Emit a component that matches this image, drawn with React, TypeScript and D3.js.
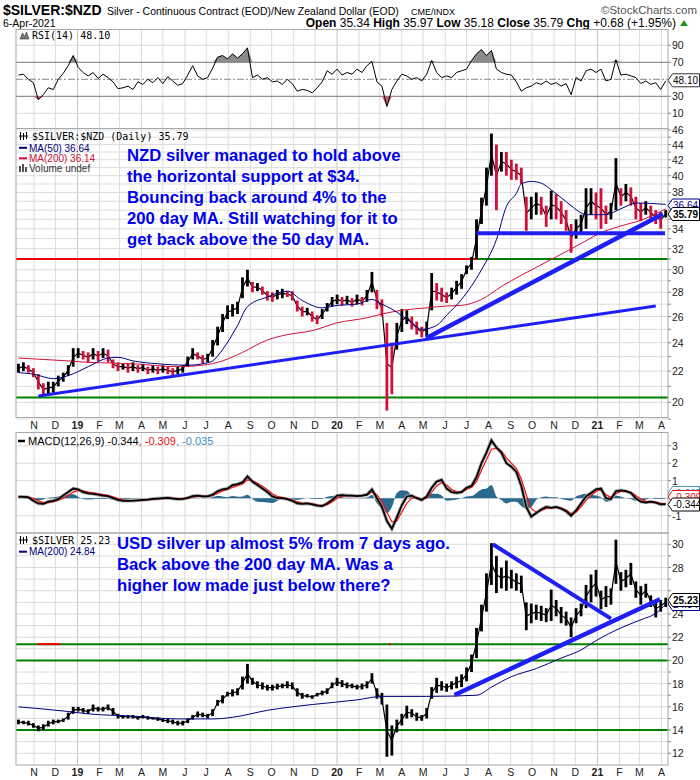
import React from "react";
import * as d3 from "d3";

// ---------------- DATA ----------------
const weekStart = "2018-10-10"; // first weekly bar (week index 0)
const axisStart = "2018-10-08";
const axisEnd = "2021-04-06";

const nzdLow = [21.9,22.0,21.9,21.6,20.8,20.4,20.5,20.6,21.0,21.3,21.7,22.3,22.9,22.8,22.6,22.8,22.7,22.9,22.6,22.2,22.0,22.1,21.9,22.0,21.9,22.0,21.8,21.9,21.8,21.9,21.8,21.7,21.8,21.9,22.3,22.8,22.8,22.5,22.6,23.0,23.8,24.8,25.8,26.0,26.2,27.5,28.5,28.0,28.1,27.8,27.3,27.2,27.4,27.5,27.6,27.3,26.4,26.0,26.1,25.6,25.4,25.8,26.4,26.8,27.0,26.9,27.0,26.8,27.0,26.9,27.2,28.0,26.6,26.0,19.5,20.5,23.5,24.8,25.4,25.0,24.6,24.4,24.5,26.5,27.3,27.2,27.1,27.4,27.8,28.3,29.6,30.0,31.0,34.5,36.5,40.0,36.0,40.5,40.0,39.5,39.5,39.0,33.8,35.0,35.5,35.5,34.2,35.0,35.0,34.5,33.8,31.6,33.0,33.5,34.0,35.5,35.0,34.0,34.5,35.0,36.0,36.5,37.0,36.5,35.0,34.8,35.5,35.0,34.5,34.0,35.2];
const nzdHigh = [22.5,22.6,22.4,22.2,21.8,21.2,21.3,21.3,21.7,21.9,22.4,23.6,23.6,23.4,23.3,23.6,23.4,23.6,23.5,22.8,22.6,22.5,22.5,22.6,22.4,22.5,22.3,22.4,22.3,22.4,22.3,22.2,22.3,22.4,23.0,23.6,23.3,23.1,23.2,24.2,25.2,26.2,26.9,27.0,27.2,29.3,30.0,28.9,28.8,28.5,28.1,28.0,28.2,28.3,28.1,28.1,27.3,26.8,26.7,26.4,26.1,26.6,27.1,27.6,27.8,27.6,27.7,27.5,27.8,27.6,28.2,29.8,28.2,27.4,25.5,24.0,25.5,26.6,26.5,26.0,25.6,25.2,25.6,29.7,28.8,28.4,28.0,28.4,29.0,29.6,30.4,31.2,35.0,37.4,41.0,45.5,44.0,43.0,43.0,42.0,41.5,41.0,37.5,37.5,38.0,37.5,36.5,38.2,37.8,37.0,36.0,34.5,35.0,35.5,38.5,38.5,38.0,38.5,36.5,36.8,42.2,38.5,39.0,38.6,37.5,36.8,37.0,36.5,36.0,35.8,36.0];

const ma50Week = [0,3,7,10,14,18,20,23,28,34,37,39,41,44,46,50,54,57,61,64,68,71,73,75,79,81,84,86,89,93,96,98,100,101,103,105,107,109,111,113,114,118,120,122,124,130];
const ma50Nzd = [21.9,21.8,21.5,21.7,22.3,22.9,22.95,22.7,22.5,22.4,22.5,22.7,23.5,25.3,26.8,27.6,28.1,27.3,26.7,26.9,27.0,27.4,27.0,26.6,25.5,25.0,25.3,26.1,27.4,30.0,32.9,36.4,37.9,39.0,39.3,39.1,38.3,37.4,36.5,35.7,35.5,35.5,35.9,36.4,36.8,36.64];
const ma200Week = [0,5,10,14,19,23,32,37,41,45,50,54,59,64,70,73,77,82,86,89,93,97,101,108,113,117,121,125,130];
const ma200Nzd = [22.9,22.8,22.7,22.6,22.55,22.5,22.3,22.4,22.7,23.3,24.2,24.6,24.9,25.5,25.9,26.2,26.5,26.7,26.85,26.9,27.4,28.5,29.5,31.2,32.5,33.6,34.3,34.9,36.14];

const rsi14 = [55,56,50,46,26,32,40,38,50,57,66,78,64,58,54,58,51,56,52,47,39,40,42,38,47,44,50,46,52,45,53,48,43,45,55,66,54,50,52,63,76,78,74,80,75,80,87,52,55,50,52,47,48,44,50,45,36,38,37,34,40,47,60,56,62,55,58,56,62,58,66,71,47,42,18,38,48,56,54,50,52,48,56,72,58,52,54,52,58,60,62,72,80,85,78,84,62,58,56,55,47,36,40,42,46,44,48,44,46,42,45,32,52,48,60,62,58,62,48,50,73,55,56,54,52,45,48,44,46,38,48.1];

const macdLine = [0.08,0.08,0.05,-0.15,-0.3,-0.32,-0.2,-0.15,-0.05,0.15,0.35,0.55,0.5,0.35,0.28,0.25,0.2,0.15,0.12,0.0,-0.1,-0.15,-0.15,-0.14,-0.12,-0.1,-0.08,-0.04,-0.02,0.0,0.02,-0.02,-0.05,-0.04,0.02,0.12,0.15,0.1,0.1,0.2,0.4,0.5,0.55,0.75,0.8,0.9,1.25,0.95,0.75,0.55,0.35,0.1,0.0,0.0,-0.05,-0.15,-0.3,-0.32,-0.3,-0.35,-0.42,-0.45,-0.3,-0.1,0.15,0.18,0.15,0.15,0.12,0.15,0.2,0.5,0.0,-0.5,-1.3,-1.75,-1.1,-0.4,0.1,0.15,0.0,-0.1,0.1,0.6,0.95,1.05,0.55,0.35,0.3,0.35,0.6,0.7,1.2,2.0,2.6,3.3,2.9,2.6,2.0,1.8,1.5,0.7,-0.5,-1.05,-0.85,-0.65,-0.5,-0.55,-0.5,-0.6,-0.75,-1.0,-0.7,-0.3,0.1,0.3,0.5,0.55,0.0,-0.05,0.4,0.45,0.4,0.3,0.0,-0.2,-0.25,-0.2,-0.25,-0.35,-0.344];
const macdSignal = [0.1,0.09,0.07,0.0,-0.15,-0.25,-0.25,-0.2,-0.12,0.0,0.15,0.35,0.45,0.42,0.35,0.3,0.25,0.2,0.15,0.08,-0.02,-0.1,-0.13,-0.14,-0.13,-0.11,-0.09,-0.06,-0.04,-0.02,0.0,0.0,-0.02,-0.03,-0.01,0.06,0.12,0.12,0.11,0.15,0.28,0.42,0.5,0.62,0.72,0.82,1.05,1.0,0.85,0.68,0.48,0.25,0.1,0.03,-0.02,-0.1,-0.2,-0.28,-0.3,-0.32,-0.38,-0.42,-0.37,-0.22,0.0,0.12,0.15,0.15,0.13,0.14,0.17,0.35,0.2,-0.2,-0.8,-1.35,-1.3,-0.8,-0.3,0.0,0.05,-0.05,0.02,0.35,0.7,0.9,0.75,0.5,0.38,0.35,0.5,0.62,0.95,1.6,2.2,2.8,2.85,2.7,2.3,2.0,1.7,1.1,0.2,-0.6,-0.8,-0.7,-0.58,-0.55,-0.52,-0.56,-0.68,-0.88,-0.8,-0.5,-0.12,0.15,0.38,0.5,0.2,0.05,0.25,0.4,0.4,0.35,0.15,-0.05,-0.18,-0.2,-0.22,-0.3,-0.309];
const macdHist = [0.0,-0.01,-0.02,-0.1,-0.12,-0.08,0.02,0.05,0.1,0.15,0.2,0.22,0.08,-0.05,-0.08,-0.06,-0.05,-0.05,-0.03,-0.08,-0.08,-0.06,-0.04,-0.03,-0.02,-0.02,-0.02,0.02,0.02,0.02,0.02,-0.02,-0.03,-0.01,0.03,0.06,0.03,-0.02,0.0,0.06,0.12,0.1,0.06,0.12,0.08,0.1,0.2,-0.05,-0.2,-0.22,-0.25,-0.28,-0.15,-0.05,-0.03,-0.06,-0.1,-0.05,0.0,-0.04,-0.05,-0.04,0.08,0.12,0.15,0.06,0.02,0.02,0.0,0.02,0.04,0.18,-0.3,-0.6,-0.85,-0.5,0.3,0.45,0.42,0.15,-0.05,-0.08,0.08,0.25,0.25,0.15,-0.15,-0.12,-0.08,0.0,0.1,0.12,0.3,0.5,0.55,0.75,0.1,-0.1,-0.3,-0.2,-0.2,-0.45,-0.6,-0.5,-0.1,0.05,0.1,0.05,0.05,-0.05,-0.1,-0.15,0.1,0.2,0.25,0.2,0.15,0.05,-0.2,-0.15,0.15,0.08,0.0,-0.05,-0.15,-0.15,-0.08,0.0,-0.05,-0.05,-0.035];

const usdLow = [14.5,14.5,14.4,14.2,13.9,14.0,14.3,14.5,14.6,14.7,14.9,15.4,15.6,15.5,15.4,15.6,15.6,15.6,15.7,15.3,15.0,15.0,15.0,15.0,14.9,15.0,14.9,14.9,14.8,14.7,14.6,14.5,14.4,14.4,14.6,14.9,15.1,15.1,15.0,15.2,16.1,16.3,16.9,16.9,17.0,17.5,18.0,17.9,17.6,17.5,17.4,17.4,17.5,17.6,17.6,17.5,16.9,16.7,16.8,16.7,16.9,17.0,17.1,17.6,17.8,17.7,17.6,17.6,17.5,17.5,17.6,18.0,16.7,16.2,11.7,11.8,13.8,14.4,15.0,15.1,14.8,14.8,15.0,16.7,17.2,17.4,17.3,17.5,17.6,17.7,18.2,19.0,20.2,22.5,24.2,26.5,25.8,26.2,26.0,26.2,26.0,25.8,22.6,23.2,23.5,23.4,23.3,23.4,23.8,23.2,23.0,22.0,23.2,23.8,24.5,25.0,25.5,24.4,24.6,24.8,26.6,26.0,26.3,26.5,25.4,24.8,25.4,24.6,23.7,24.2,24.6];
const usdHigh = [14.9,14.8,14.8,14.6,14.4,14.5,14.8,14.9,14.9,15.0,15.5,16.0,16.0,15.9,15.8,16.2,16.0,16.0,16.2,15.9,15.4,15.3,15.3,15.3,15.2,15.3,15.2,15.1,15.1,15.0,15.0,14.9,14.8,14.8,15.0,15.3,15.6,15.5,15.4,15.8,16.6,17.0,17.3,17.5,17.6,18.6,19.7,18.5,18.2,18.1,17.9,17.9,18.0,18.0,18.2,18.1,17.6,17.2,17.1,17.0,17.2,17.4,17.6,18.1,18.5,18.3,18.1,18.0,17.9,18.0,18.2,18.9,17.6,17.2,16.2,14.4,14.9,15.4,16.1,15.8,15.5,15.3,15.9,17.7,18.5,18.2,18.0,18.2,18.6,18.8,19.4,20.5,22.8,24.8,27.5,30.1,29.0,28.0,28.6,27.8,27.5,27.3,25.0,24.9,24.8,24.7,24.5,26.1,25.2,24.6,24.2,23.7,24.5,24.9,26.5,27.4,27.8,26.0,26.4,26.2,30.4,27.6,27.8,28.4,26.8,26.4,26.6,25.6,25.2,25.2,25.4];
const usdMa200Week = [0,10,14,23,32,39,43,50,59,68,73,82,92,95,99,104,109,113,116,121,125,128,130];
const usdMa200 = [16.0,15.6,15.4,15.2,14.96,14.96,15.1,15.7,16.2,16.6,16.9,16.9,17.0,17.7,18.6,19.3,20.2,20.9,21.7,22.8,23.5,24.05,24.84];

// annotation lines (dates / prices)
const nzdResistance = 31.0;
const nzdResistanceBreak = "2020-07-16";
const nzdFloor = 20.3;
const nzdSupport = 33.55;
const nzdSupportSpan = ["2020-07-15", "2021-04-06"];
const nzdTrendLong: [string, number][] = [["2018-11-07", 20.39], ["2021-03-24", 26.85]];
const nzdTrendSteep: [string, number][] = [["2020-05-05", 24.32], ["2021-04-03", 35.57]];
const usdLevels = [21.4, 20.0, 14.0];
const usdRedMarks: [string, string][] = [["2018-11-06", "2018-12-08"], ["2020-03-14", "2020-03-17"]];
const usdTrendUp: [string, number][] = [["2020-06-14", 17.02], ["2021-03-30", 25.27]];
const usdTrendDown: [string, number][] = [["2020-08-07", 30.0], ["2021-01-20", 23.6]];

// ticks / labels
const firstMonth = "2018-11-01";
const monthLabels = ["N","D","19","F","M","A","M","J","J","A","S","O","N","D","20","F","M","A","M","J","J","A","S","O","N","D","21","F","M","A"];
const nzdTicks = [20,22,24,26,28,30,32,34,38,40,42,44,46];
const rsiTicks = [10,30,70,90];
const macdTicks = [-1,1,2,3];
const usdTicks = [12,14,16,18,20,22,24,28,30];

const mainNote = ["NZD silver managed to hold above","the horizontal support at $34.","Bouncing back around 4% to the","200 day MA. Still watching for it to","get back above the 50 day MA."];
const usdNote = ["USD silver up almost 5% from 7 days ago.","Back above the 200 day MA. Was a","higher low made just below there?"];

// ---------------- LAYOUT ----------------
const F = "'Liberation Sans', Arial, sans-serif";
const MONO = "'DejaVu Sans Mono', monospace";
const PL = 16, PR = 668;
const P = {
  rsi: { top: 29.5, bottom: 128.5 },
  main: { top: 128.5, bottom: 417.5 },
  macd: { top: 432.5, bottom: 533 },
  usd: { top: 533, bottom: 765 },
};
const GRID = "#dcdcdc";
const BLUE = "#1e1ef5";

function Tag({ y, text, stroke, color, bold }: any) {
  return (
    <g>
      <path d={`M${PR},${y} L${PR + 4.5},${y - 6.5} H699.5 V${y + 6.5} H${PR + 4.5} Z`} fill="#fff" stroke={stroke} strokeWidth={1} />
      <text x={PR + 5} y={y + 3.7} fontFamily={F} fontSize={10} fill={color} fontWeight={bold ? "bold" : "normal"}>{text}</text>
    </g>
  );
}

export default function App() {
  const parse = d3.timeParse("%Y-%m-%d");
  const x = d3.scaleTime().domain([parse(axisStart)!, parse(axisEnd)!]).range([17, 665]);
  const w0 = parse(weekStart)!.getTime();
  const wx = (i: number) => x(new Date(w0 + i * 7 * 864e5));
  const dx = (s: string) => x(parse(s)!);

  const yR = d3.scaleLinear().domain([0, 100]).range([121.8, 36.8]);
  const yM = d3.scaleLog().domain([20, 46]).range([402.3, 130]);
  const yD = d3.scaleLinear().domain([-1, 3]).range([515.7, 445.7]);
  const yU = d3.scaleLinear().domain([12, 30]).range([753.3, 544.3]);

  const m0 = parse(firstMonth)!;
  const months = monthLabels.map((l, k) => ({ l, d: d3.timeMonth.offset(m0, k), year: /\d/.test(l) }));

  const vgrid = (p: { top: number; bottom: number }, key: string) =>
    months.map((m, k) => (
      <line key={key + k} x1={x(m.d)} x2={x(m.d)} y1={p.top} y2={p.bottom} stroke={m.year ? "#c4c4c4" : GRID} strokeWidth={1} />
    ));
  const hgrid = (vals: number[], y: (v: number) => number, key: string) =>
    vals.map((v, k) => <line key={key + k} x1={PL} x2={PR} y1={y(v)} y2={y(v)} stroke={GRID} strokeWidth={1} />);

  const panelBox = (p: { top: number; bottom: number }, key: string) => (
    <rect key={key} x={PL} y={p.top} width={PR - PL} height={p.bottom - p.top} fill="none" stroke="#a8a8a8" strokeWidth={1} />
  );

  // RSI
  const rsiLine = d3.line<number>().x((_, i) => wx(i)).y((v) => yR(v))(rsi14)!;
  const rsiOver = d3.area<number>().x((_, i) => wx(i)).y0(yR(70)).y1((v) => yR(Math.max(v, 70)))(rsi14)!;
  const rsiUnder = d3.area<number>().x((_, i) => wx(i)).y0(yR(30)).y1((v) => yR(Math.min(v, 30)))(rsi14)!;

  const ma = (weeks: number[], vals: number[], y: any) =>
    d3.line<number>().x((_, k) => wx(weeks[k])).y((v) => y(v)).curve(d3.curveMonotoneX)(vals)!;

  // price bars: a weekly range bar plus a thin trace linking the bars
  const priceMarks = (lo: number[], hi: number[], y: any, useRed: boolean, key: string) => {
    const mids = lo.map((l, i) => (l + hi[i]) / 2);
    const trace = d3.line<number>().x((_, i) => wx(i)).y((v) => y(v))(mids)!;
    return (
      <g key={key}>
        <path d={trace} fill="none" stroke="#000" strokeWidth={1.2} />
        {lo.map((l, i) => {
          const up = i === 0 || mids[i] >= mids[i - 1];
          return (
            <rect key={key + i} x={wx(i) - 1.4} width={2.8} y={y(hi[i])} height={Math.max(1, y(l) - y(hi[i]))}
              fill={useRed && !up ? "#d0103a" : "#000"} />
          );
        })}
      </g>
    );
  };

  // MACD
  const histArea = d3.area<number>().x((_, i) => wx(i)).y0(yD(0)).y1((v) => yD(v)).curve(d3.curveMonotoneX)(macdHist)!;
  const macdPath = d3.line<number>().x((_, i) => wx(i)).y((v) => yD(v))(macdLine)!;
  const sigPath = d3.line<number>().x((_, i) => wx(i)).y((v) => yD(v))(macdSignal)!;

  const nzdIntTicks = d3.range(19, 47);
  const usdIntTicks = d3.range(12, 31);

  const seg = (a: [string, number], b: [string, number], y: any) => ({ x1: dx(a[0]), y1: y(a[1]), x2: dx(b[0]), y2: y(b[1]) });
  const tl = seg(nzdTrendLong[0], nzdTrendLong[1], yM);
  const ts = seg(nzdTrendSteep[0], nzdTrendSteep[1], yM);
  const tu = seg(usdTrendUp[0], usdTrendUp[1], yU);
  const td = seg(usdTrendDown[0], usdTrendDown[1], yU);

  const axisLabel = (v: number | string, y: number, key: string) => (
    <text key={key} x={672} y={y + 4} fontFamily={F} fontSize={10.5} fill="#222">{v}</text>
  );
  const ticksOut = (vals: number[], y: any, key: string) =>
    vals.map((v, k) => <line key={key + k} x1={PR} x2={PR + 3} y1={y(v)} y2={y(v)} stroke="#888" />);

  return (
    <svg width={700} height={780} style={{ position: "absolute", left: 0, top: 0, background: "#fff" }} xmlns="http://www.w3.org/2000/svg">
      <defs>
        {Object.entries(P).map(([k, p]) => (
          <clipPath id={"clip-" + k} key={k}>
            <rect x={PL} y={p.top} width={PR - PL} height={p.bottom - p.top} />
          </clipPath>
        ))}
      </defs>
      <rect x={0} y={0} width={700} height={780} fill="#fff" />

      {/* Header */}
      <text x={3} y={15} fontFamily={F} fontSize={14} fontWeight="bold" fill="#000">$SILVER:$NZD</text>
      <text x={107} y={14.5} fontFamily={F} fontSize={10.5} fill="#000">Silver - Continuous Contract (EOD)/New Zealand Dollar (EOD)</text>
      <text x={411} y={14.5} fontFamily={F} fontSize={9} fill="#000">CME/INDX</text>
      <text x={697} y={14} textAnchor="end" fontFamily={F} fontSize={11.5} fill="#555">©StockCharts.com</text>
      <text x={3} y={27} fontFamily={F} fontSize={10.5} fill="#000">6-Apr-2021</text>
      <text x={676} y={27} textAnchor="end" fontFamily={F} fontSize={12} fill="#000">
        <tspan fontWeight="bold">Open</tspan>{" 35.34 "}
        <tspan fontWeight="bold">High</tspan>{" 35.97 "}
        <tspan fontWeight="bold">Low</tspan>{" 35.18 "}
        <tspan fontWeight="bold">Close</tspan>{" 35.79 "}
        <tspan fontWeight="bold">Chg</tspan>{" +0.68 (+1.95%)"}
      </text>
      <path d="M680,26 L684,20 L688,26 Z" fill="#1a9a1a" />

      {/* ---------- RSI panel ---------- */}
      {vgrid(P.rsi, "rv")}
      {hgrid([10, 90], yR, "rh")}
      <line x1={PL} x2={PR} y1={yR(70)} y2={yR(70)} stroke="#777" />
      <line x1={PL} x2={PR} y1={yR(30)} y2={yR(30)} stroke="#777" />
      <line x1={PL} x2={PR} y1={yR(50)} y2={yR(50)} stroke="#888" strokeDasharray="7,2,2,2" />
      <g clipPath="url(#clip-rsi)">
        <path d={rsiOver} fill="#8c8c8c" />
        <path d={rsiUnder} fill="#c06070" />
        <path d={rsiLine} fill="none" stroke="#000" strokeWidth={1} />
      </g>
      {panelBox(P.rsi, "rb")}
      {ticksOut(rsiTicks, yR, "rt")}
      {rsiTicks.map((v, k) => axisLabel(v, yR(v), "rl" + k))}
      <Tag y={80.3} text="48.10" stroke="#333" color="#000" />
      <path d="M20,39 L22.5,33 L24.5,36.5 L26.5,32 L29,39 Z" fill="#777" stroke="#333" strokeWidth={0.6} />
      <text x={32} y={39} fontFamily={MONO} fontSize={10} fill="#000">RSI(14) 48.10</text>

      {/* ---------- Main panel ---------- */}
      {vgrid(P.main, "mv")}
      {hgrid(nzdIntTicks, yM, "mh")}
      <g clipPath="url(#clip-main)">
        <line x1={PL} x2={dx(nzdResistanceBreak)} y1={yM(nzdResistance)} y2={yM(nzdResistance)} stroke="#ee0000" strokeWidth={2} />
        <line x1={dx(nzdResistanceBreak)} x2={PR} y1={yM(nzdResistance)} y2={yM(nzdResistance)} stroke="#008000" strokeWidth={2} />
        <line x1={PL} x2={PR} y1={yM(nzdFloor)} y2={yM(nzdFloor)} stroke="#008000" strokeWidth={2} />
        {priceMarks(nzdLow, nzdHigh, yM, true, "nz")}
        <path d={ma(ma200Week, ma200Nzd, yM)} fill="none" stroke="#d0103a" strokeWidth={1} />
        <path d={ma(ma50Week, ma50Nzd, yM)} fill="none" stroke="#000080" strokeWidth={1} />
        <line x1={dx(nzdSupportSpan[0])} x2={dx(nzdSupportSpan[1])} y1={yM(nzdSupport)} y2={yM(nzdSupport)} stroke={BLUE} strokeWidth={4} />
        <line {...tl} stroke={BLUE} strokeWidth={3} />
        <line {...ts} stroke={BLUE} strokeWidth={4.5} />
      </g>
      {panelBox(P.main, "mb")}
      {ticksOut(nzdIntTicks, yM, "mt")}
      {nzdTicks.map((v, k) => axisLabel(v, yM(v), "ml" + k))}
      <Tag y={205.5} text="36.64" stroke="#000080" color="#000080" />
      <Tag y={214} text="35.79" stroke="#000" color="#000" bold />
      {mainNote.map((t, k) => (
        <text key={"mn" + k} x={127} y={160.7 + 21 * k} fontFamily={F} fontSize={16.7} fontWeight="bold" fill="#0000ee">{t}</text>
      ))}
      <g stroke="#000" strokeWidth={1}>
        <line x1={20.5} x2={20.5} y1={132} y2={140} />
        <line x1={23.5} x2={23.5} y1={133} y2={140} />
        <line x1={26.5} x2={26.5} y1={132} y2={139} />
        <line x1={19} x2={28} y1={136} y2={136} />
      </g>
      <text x={32} y={140} fontFamily={MONO} fontSize={10} fill="#000">$SILVER:$NZD (Daily) 35.79</text>
      <line x1={19} x2={27} y1={147.8} y2={147.8} stroke="#000080" strokeWidth={2} />
      <text x={29} y={151.5} fontFamily={F} fontSize={10} fill="#000080">MA(50) 36.64</text>
      <line x1={19} x2={27} y1={158.3} y2={158.3} stroke="#d0103a" strokeWidth={2} />
      <text x={29} y={162} fontFamily={F} fontSize={10} fill="#d0103a">MA(200) 36.14</text>
      <g fill="#555">
        <rect x={19} y={166} width={2} height={6} />
        <rect x={22} y={164} width={2} height={8} />
        <rect x={25} y={167} width={2} height={5} />
      </g>
      <text x={29} y={172} fontFamily={F} fontSize={10} fill="#333">Volume undef</text>

      {/* month labels (middle) */}
      {months.map((m, k) => (
        <text key={"ml1" + k} x={x(m.d)} y={429} textAnchor="middle" fontFamily={F} fontSize={10.5} fontWeight={m.year ? "bold" : "normal"} fill="#222">{m.l}</text>
      ))}

      {/* ---------- MACD panel ---------- */}
      {vgrid(P.macd, "dv")}
      {hgrid([-1, 0, 1, 2, 3], yD, "dh")}
      <g clipPath="url(#clip-macd)">
        <path d={histArea} fill="#2b6a8e" />
        <path d={macdPath} fill="none" stroke="#aaa" strokeWidth={3.5} />
        <path d={sigPath} fill="none" stroke="#ee1111" strokeWidth={1.2} />
        <path d={macdPath} fill="none" stroke="#000" strokeWidth={1.8} />
      </g>
      {panelBox(P.macd, "db")}
      {ticksOut(macdTicks, yD, "dt")}
      {macdTicks.map((v, k) => axisLabel(v, yD(v), "dl" + k))}
      <Tag y={493} text="-0.035" stroke="#4a8fc0" color="#4a8fc0" />
      <Tag y={497} text="-0.309" stroke="#ee1111" color="#ee1111" />
      <Tag y={504.5} text="-0.344" stroke="#000" color="#000" />
      <line x1={18} x2={25} y1={441} y2={441} stroke="#000" strokeWidth={2.5} />
      <text x={28} y={445} fontFamily={F} fontSize={11} fill="#000">
        {"MACD(12,26,9) -0.344"}
        <tspan fill="#ee1111">{", -0.309"}</tspan>
        <tspan fill="#3a8cc8">{", -0.035"}</tspan>
      </text>

      {/* ---------- USD panel ---------- */}
      {vgrid(P.usd, "uv")}
      {hgrid(usdIntTicks, yU, "uh")}
      <g clipPath="url(#clip-usd)">
        {usdLevels.map((v, k) => (
          <line key={"ul" + k} x1={PL} x2={PR} y1={yU(v)} y2={yU(v)} stroke="#008000" strokeWidth={2} />
        ))}
        {usdRedMarks.map((r, k) => (
          <line key={"ur" + k} x1={dx(r[0])} x2={dx(r[1])} y1={yU(usdLevels[0])} y2={yU(usdLevels[0])} stroke="#ee0000" strokeWidth={2} />
        ))}
        {priceMarks(usdLow, usdHigh, yU, false, "us")}
        <path d={ma(usdMa200Week, usdMa200, yU)} fill="none" stroke="#000080" strokeWidth={1} />
        <line {...tu} stroke={BLUE} strokeWidth={4.5} />
        <line {...td} stroke={BLUE} strokeWidth={4} />
      </g>
      {panelBox(P.usd, "ub")}
      {ticksOut(usdIntTicks, yU, "ut")}
      {usdTicks.map((v, k) => axisLabel(v, yU(v), "ull" + k))}
      <Tag y={604} text="24.84" stroke="#000080" color="#000080" />
      <Tag y={600} text="25.23" stroke="#000" color="#000" bold />
      {usdNote.map((t, k) => (
        <text key={"un" + k} x={117} y={549.3 + 20.7 * k} fontFamily={F} fontSize={16.7} fontWeight="bold" fill="#0000ee">{t}</text>
      ))}
      <g stroke="#000" strokeWidth={1}>
        <line x1={20.5} x2={20.5} y1={536} y2={544} />
        <line x1={23.5} x2={23.5} y1={537} y2={544} />
        <line x1={26.5} x2={26.5} y1={536} y2={543} />
        <line x1={19} x2={28} y1={540} y2={540} />
      </g>
      <text x={32} y={544} fontFamily={MONO} fontSize={10} fill="#000">$SILVER 25.23</text>
      <line x1={19} x2={27} y1={551.7} y2={551.7} stroke="#000080" strokeWidth={2} />
      <text x={29} y={555.3} fontFamily={F} fontSize={10} fill="#000080">MA(200) 24.84</text>

      {months.map((m, k) => (
        <text key={"ml2" + k} x={x(m.d)} y={776} textAnchor="middle" fontFamily={F} fontSize={10.5} fontWeight={m.year ? "bold" : "normal"} fill="#222">{m.l}</text>
      ))}
    </svg>
  );
}
